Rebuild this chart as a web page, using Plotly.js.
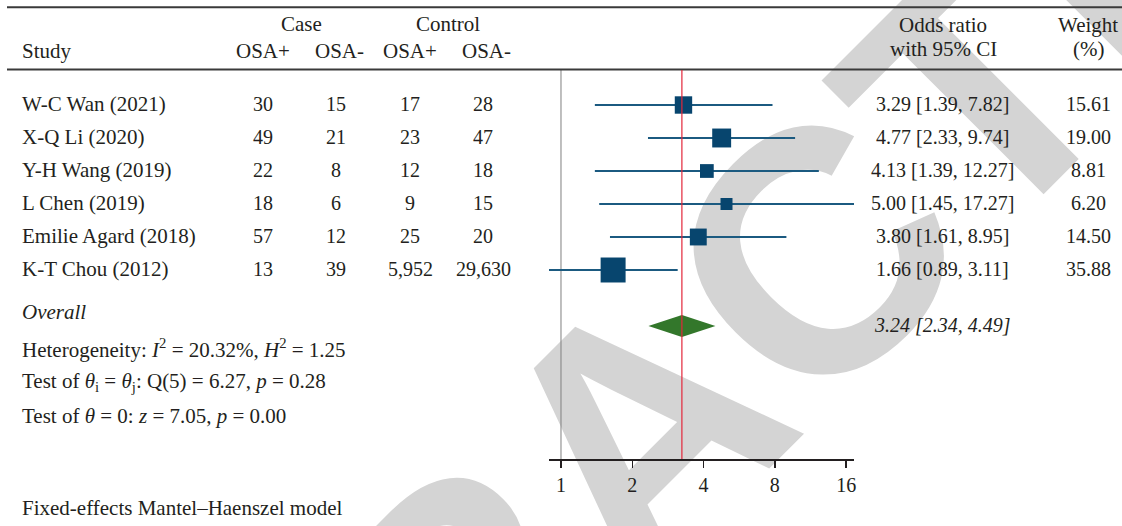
<!DOCTYPE html>
<html><head><meta charset="utf-8">
<script src="https://cdn.plot.ly/plotly-3.0.1.min.js"></script>
<style>
html,body{margin:0;padding:0;background:#fff;}
#wrap{position:relative;width:1122px;height:526px;overflow:hidden;background:#fff;}
#bg,#chart{position:absolute;left:0;top:0;width:1122px;height:526px;}
</style></head><body>
<div id="wrap"><div id="bg"></div><div id="chart"></div></div>
<script>
// ---------- data ----------
const studies    = ["W-C Wan (2021)", "X-Q Li (2020)", "Y-H Wang (2019)", "L Chen (2019)", "Emilie Agard (2018)", "K-T Chou (2012)"];
const caseOsaPos = [30, 49, 22, 18, 57, 13];
const caseOsaNeg = [15, 21, 8, 6, 12, 39];
const ctrlOsaPos = [17, 23, 12, 9, 25, 5952];
const ctrlOsaNeg = [28, 47, 18, 15, 20, 29630];
const oddsRatio  = [3.29, 4.77, 4.13, 5.00, 3.80, 1.66];
const ciLow      = [1.39, 2.33, 1.39, 1.45, 1.61, 0.89];
const ciHigh     = [7.82, 9.74, 12.27, 17.27, 8.95, 3.11];
const weights    = [15.61, 19.00, 8.81, 6.20, 14.50, 35.88];
const overall    = [3.24, 2.34, 4.49];   // OR, low, high
const heterogeneity = [20.32, 1.25];     // I^2 (%), H^2
const qTest      = [5, 6.27, 0.28];      // df, Q, p
const zTest      = [7.05, 0.00];         // z, p
const xTicks     = [1, 2, 4, 8, 16];
const watermark  = "RETRACTED";

// ---------- layout helpers ----------
const W = 1122, H = 526;
const px = v => v / W, py = v => 1 - v / H;
const ink = '#231f20';
const serif = 'Liberation Serif, Times New Roman, serif';
const col = {name: 20, c1: 263, c2: 336, c3: 410, c4: 483, or: 942, wt: 1088};
const rowTop = 105, rowStep = 33;     // pixel centre of first row, spacing
const plotTop = 70, plotBottom = 459;
const rowOf = p => 1 + (p - rowTop) / rowStep;
const rows = studies.map((_, i) => i + 1);
const overallRow = rowOf(326);
const f2 = v => v.toFixed(2);
const fmtN = v => v.toLocaleString('en-US');
const numFont = {family: serif, size: 20, color: ink};

function txt(text, x, y, o = {}) {
  return Object.assign({
    text, x: px(x), y: py(y),
    xref: 'paper', yref: 'paper', showarrow: false,
    xanchor: 'center', yanchor: 'middle',
    font: {family: serif, size: 21, color: ink}
  }, o);
}

const annotations = [];
// header
annotations.push(txt('Case', 301, 24));
annotations.push(txt('Control', 448, 24));
annotations.push(txt('Study', col.name, 51, {xanchor: 'left'}));
[['OSA+', col.c1], ['OSA-', col.c2], ['OSA+', col.c3], ['OSA-', col.c4]].forEach(([t, x]) =>
  annotations.push(txt(t, x + (t.endsWith('-') ? 3 : 0), 51)));
annotations.push(txt('Odds ratio', 943, 25));
annotations.push(txt('with 95% CI', 943, 49));
annotations.push(txt('Weight', 1088, 25));
annotations.push(txt('(%)', 1088, 49));

// study rows
studies.forEach((s, i) => {
  const r = rows[i];
  const rowAnn = (t, x, o = {}) => Object.assign(txt(t, x, 0), {y: r, yref: 'y', yshift: 1.5}, o);
  annotations.push(rowAnn(s, col.name, {xanchor: 'left'}));
  annotations.push(rowAnn(fmtN(caseOsaPos[i]), col.c1, {font: numFont}));
  annotations.push(rowAnn(fmtN(caseOsaNeg[i]), col.c2, {font: numFont}));
  annotations.push(rowAnn(fmtN(ctrlOsaPos[i]), col.c3, {font: numFont}));
  annotations.push(rowAnn(fmtN(ctrlOsaNeg[i]), col.c4, {font: numFont}));
  annotations.push(rowAnn(`${f2(oddsRatio[i])} [${f2(ciLow[i])}, ${f2(ciHigh[i])}]`, col.or, {font: numFont}));
  annotations.push(rowAnn(f2(weights[i]), col.wt, {font: numFont}));
});

// overall + stats
annotations.push(txt('<i>Overall</i>', col.name, 312, {xanchor: 'left'}));
annotations.push(Object.assign(txt(`<i>${f2(overall[0])} [${f2(overall[1])}, ${f2(overall[2])}]</i>`, col.or, 0),
  {y: overallRow, yref: 'y', yshift: 1, font: numFont}));
annotations.push(txt(`Heterogeneity: <i>I</i><sup>2</sup> = ${f2(heterogeneity[0])}%, <i>H</i><sup>2</sup> = ${f2(heterogeneity[1])}`, col.name, 348, {xanchor: 'left'}));
annotations.push(txt(`Test of <i>θ</i><sub>i</sub> = <i>θ</i><sub>j</sub>: Q(${qTest[0]}) = ${f2(qTest[1])}, <i>p</i> = ${f2(qTest[2])}`, col.name, 382, {xanchor: 'left'}));
annotations.push(txt(`Test of <i>θ</i> = 0: <i>z</i> = ${f2(zTest[0])}, <i>p</i> = ${f2(zTest[1])}`, col.name, 416, {xanchor: 'left'}));
annotations.push(txt('Fixed-effects Mantel–Haenszel model', col.name, 508, {xanchor: 'left'}));

// ---------- traces ----------
const ciX = [], ciY = [];
rows.forEach((r, i) => { ciX.push(ciLow[i], ciHigh[i], null); ciY.push(r, r, null); });
const ciTrace = {x: ciX, y: ciY, mode: 'lines', type: 'scatter',
  line: {color: '#1b5a80', width: 2}, hoverinfo: 'skip'};
const sqTrace = {x: oddsRatio, y: rows, mode: 'markers', type: 'scatter',
  marker: {symbol: 'square', color: '#07456e', opacity: 1,
    size: weights.map(w => 2.75 + 3.71 * Math.sqrt(w)), line: {width: 0}}};
const dh = 11 / rowStep;
const dmTrace = {x: [overall[1], overall[0], overall[2], overall[0], overall[1]],
  y: [overallRow, overallRow - dh, overallRow, overallRow + dh, overallRow],
  mode: 'lines', fill: 'toself', fillcolor: '#33772b', line: {width: 0, color: '#33772b'}, type: 'scatter'};

const shapes = [
  {type: 'line', xref: 'paper', yref: 'paper', x0: px(7), x1: 1, y0: py(7.3), y1: py(7.3), line: {color: '#3a3a3a', width: 2}},
  {type: 'line', xref: 'paper', yref: 'paper', x0: px(7), x1: 1, y0: py(69.5), y1: py(69.5), line: {color: '#3a3a3a', width: 2}},
  {type: 'line', xref: 'x', yref: 'y domain', x0: 1, x1: 1, y0: 0, y1: 1, line: {color: '#7f7f7f', width: 1}, layer: 'below'},
  {type: 'line', xref: 'x', yref: 'y domain', x0: overall[0], x1: overall[0], y0: 0, y1: 1, line: {color: '#e3263a', width: 1.2}, layer: 'above'}
];

const layout = {
  width: W, height: H, margin: {l: 0, r: 0, t: 0, b: 0},
  paper_bgcolor: 'rgba(0,0,0,0)', plot_bgcolor: 'rgba(0,0,0,0)',
  showlegend: false,
  xaxis: {type: 'log', domain: [px(549), px(854)],
    range: [Math.log10(Math.min(...ciLow)), Math.log10(Math.max(...ciHigh))],
    tickvals: xTicks, ticktext: xTicks.map(String),
    ticks: 'outside', ticklen: 7, tickwidth: 1.5, tickcolor: ink,
    showline: true, linecolor: ink, linewidth: 2, showgrid: false, zeroline: false,
    tickfont: {family: serif, size: 20, color: ink}, ticklabelstandoff: 0},
  yaxis: {domain: [py(plotBottom), py(plotTop)], range: [rowOf(plotBottom), rowOf(plotTop)],
    visible: false, showgrid: false, zeroline: false},
  shapes, annotations
};

Plotly.newPlot('bg', [], {
  width: W, height: H, margin: {l: 0, r: 0, t: 0, b: 0},
  paper_bgcolor: '#ffffff', plot_bgcolor: '#ffffff',
  xaxis: {visible: false}, yaxis: {visible: false},
  annotations: [{text: watermark, x: px(637), y: py(431), xref: 'paper', yref: 'paper',
    showarrow: false, xanchor: 'center', yanchor: 'middle', textangle: -45,
    font: {family: 'Liberation Sans, Arial, sans-serif', size: 345, color: '#d4d4d4', weight: 700}}]
}, {staticPlot: true, displayModeBar: false});

Plotly.newPlot('chart', [ciTrace, sqTrace, dmTrace], layout, {staticPlot: true, displayModeBar: false});
</script>
</body></html>
